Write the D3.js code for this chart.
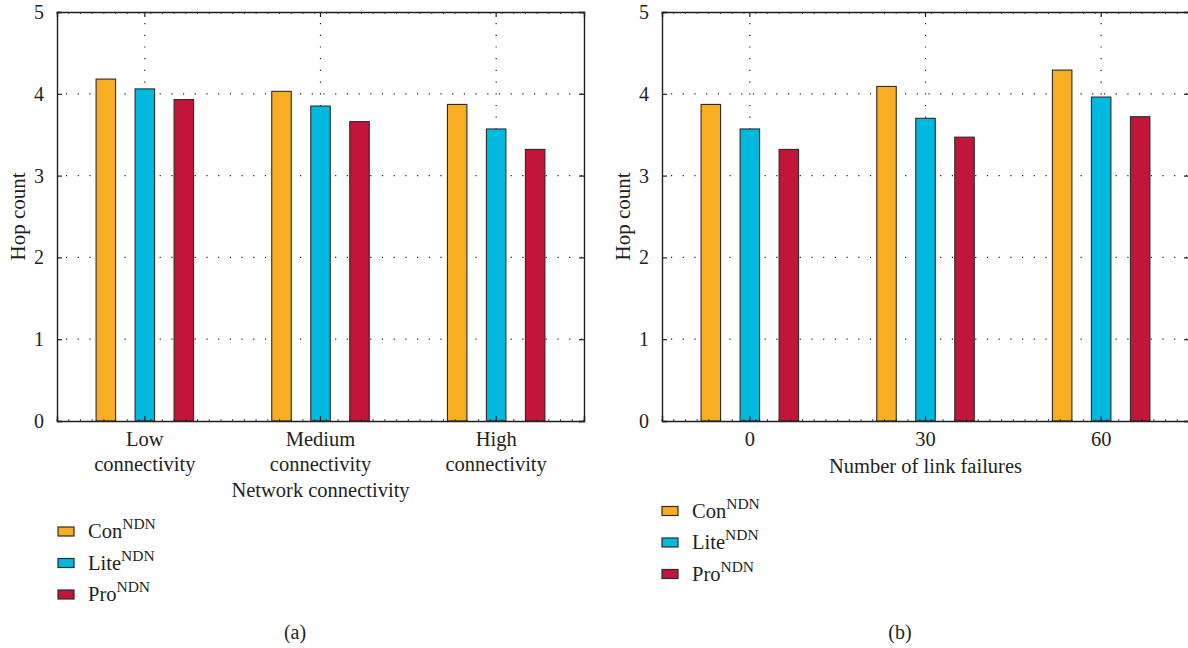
<!DOCTYPE html>
<html>
<head>
<meta charset="utf-8">
<script src="https://cdn.jsdelivr.net/npm/d3@7"></script>
<style>
  html, body { margin: 0; padding: 0; background: #fff; }
  svg { display: block; }
  text { font-family: "Liberation Serif", "Times New Roman", serif; fill: #231f20; }
</style>
</head>
<body>
<svg id="chart" width="1188" height="648"></svg>
<script>
// Series shared by both panels
const seriesNames = ["Con", "Lite", "Pro"];
const seriesSup = "NDN";
const seriesColors = ["#f9ae22", "#00b9df", "#c1163a"];

// Panel (a): hop count vs. network connectivity
const connectivityCats = ["Low connectivity", "Medium connectivity", "High connectivity"];
const conA  = [4.18, 4.03, 3.87];
const liteA = [4.06, 3.85, 3.57];
const proA  = [3.93, 3.66, 3.32];

// Panel (b): hop count vs. number of link failures
const failureCats = ["0", "30", "60"];
const conB  = [3.87, 4.09, 4.29];
const liteB = [3.57, 3.70, 3.96];
const proB  = [3.32, 3.47, 3.72];

const yTicks = [0, 1, 2, 3, 4, 5];

const svg = d3.select("#chart");
const ink = "#231f20";

function panel(cfg) {
  const { left, right, top, bottom, cats, values, xTitle, xTitleY, catLines, legend, tag, yLabelX } = cfg;
  const g = svg.append("g");

  const x = d3.scaleBand().domain(cats).range([left, right]).paddingInner(0).paddingOuter(0);
  const y = d3.scaleLinear().domain([0, 5]).range([bottom, top]);
  const inner = d3.scaleBand().domain(seriesNames).range([-58.5, 58.5]).paddingInner(0.5).paddingOuter(0.25);
  const cx = c => x(c) + x.bandwidth() / 2;

  // dotted grid
  const grid = g.append("g").attr("stroke", ink).attr("stroke-width", 1.2)
    .attr("stroke-dasharray", "1.2,10.5").attr("fill", "none");
  yTicks.filter(t => t > 0 && t < 5).forEach(t => {
    grid.append("line").attr("x1", left + 9).attr("x2", right).attr("y1", y(t)).attr("y2", y(t));
  });
  cats.forEach(c => {
    grid.append("line").attr("x1", cx(c)).attr("x2", cx(c)).attr("y1", top + 11).attr("y2", bottom);
  });

  // bars
  const rows = [];
  cats.forEach((c, i) => seriesNames.forEach((s, j) => rows.push({ c, s, j, v: values[j][i] })));
  g.append("g").selectAll("rect").data(rows).join("rect")
    .attr("x", d => cx(d.c) + inner(d.s))
    .attr("width", inner.bandwidth())
    .attr("y", d => y(d.v))
    .attr("height", d => y(0) - y(d.v))
    .attr("fill", d => seriesColors[d.j])
    .attr("stroke", "#2b2b2b")
    .attr("stroke-width", 1.1);

  // minor ticks along top and bottom edges
  const minor = d3.range(0, 46).map(k => left + k * (right - left) / 45);
  const mt = g.append("g").attr("stroke", ink).attr("stroke-width", 0.8);
  minor.forEach(mx => {
    mt.append("line").attr("x1", mx).attr("x2", mx).attr("y1", top).attr("y2", top + 2);
    mt.append("line").attr("x1", mx).attr("x2", mx).attr("y1", bottom).attr("y2", bottom - 2);
  });

  // axes (box)
  const axL = g.append("g").attr("transform", `translate(${left},0)`)
    .call(d3.axisLeft(y).tickValues(yTicks).tickSize(-5).tickPadding(13).tickFormat(d3.format("d")));
  const axR = g.append("g").attr("transform", `translate(${right},0)`)
    .call(d3.axisRight(y).tickValues(yTicks).tickSize(-5).tickFormat(""));
  const axB = g.append("g").attr("transform", `translate(0,${bottom})`)
    .call(d3.axisBottom(x).tickSize(-5).tickFormat(""));
  const axT = g.append("g").attr("transform", `translate(0,${top})`)
    .call(d3.axisTop(x).tickSize(-5).tickFormat(""));
  [axL, axR, axB, axT].forEach(a => {
    a.select(".domain").attr("stroke", ink).attr("stroke-width", 1.4);
    a.selectAll(".tick line").attr("stroke", ink).attr("stroke-width", 1.2);
  });
  axL.selectAll(".tick text").attr("font-size", 20).attr("fill", ink)
    .attr("font-family", "Liberation Serif, serif");

  // category labels
  cats.forEach(c => {
    const lines = catLines ? c.split(" ") : [c];
    lines.forEach((ln, k) => {
      g.append("text").attr("x", cx(c)).attr("y", 446 + k * 24.5)
        .attr("text-anchor", "middle").attr("font-size", 20.5).text(ln);
    });
  });

  // axis titles
  g.append("text").attr("x", (left + right) / 2).attr("y", xTitleY)
    .attr("text-anchor", "middle").attr("font-size", 20.5).text(xTitle);
  g.append("text").attr("transform", `translate(${yLabelX},${(top + bottom) / 2}) rotate(-90)`)
    .attr("text-anchor", "middle").attr("font-size", 21).text("Hop count");

  // legend
  seriesNames.forEach((s, j) => {
    const cy = legend.y + j * 31.5;
    g.append("rect").attr("x", legend.x).attr("y", cy - 4.5).attr("width", 16).attr("height", 9)
      .attr("fill", seriesColors[j]).attr("stroke", "#2b2b2b").attr("stroke-width", 1.2);
    const t = g.append("text").attr("x", legend.x + 30).attr("y", cy + 6.5).attr("font-size", 20.5);
    t.append("tspan").text(s);
    t.append("tspan").attr("dy", -9).attr("font-size", 15.5).text(seriesSup);
  });

  // panel tag
  g.append("text").attr("x", tag.x).attr("y", 639).attr("text-anchor", "middle")
    .attr("font-size", 20).text(tag.text);
}

panel({
  left: 57, right: 584, top: 12, bottom: 421,
  cats: connectivityCats, values: [conA, liteA, proA], catLines: true,
  xTitle: "Network connectivity", xTitleY: 496.5,
  legend: { x: 58, y: 531.5 }, tag: { x: 295, text: "(a)" }, yLabelX: 25
});

panel({
  left: 662, right: 1189, top: 12, bottom: 421,
  cats: failureCats, values: [conB, liteB, proB], catLines: false,
  xTitle: "Number of link failures", xTitleY: 473,
  legend: { x: 662, y: 511 }, tag: { x: 900, text: "(b)" }, yLabelX: 630
});
</script>
</body>
</html>
